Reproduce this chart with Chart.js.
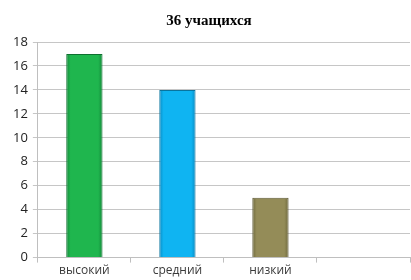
<!DOCTYPE html>
<html><head><meta charset="utf-8">
<script src="https://cdn.jsdelivr.net/npm/chart.js@4"></script>
<style>html,body{margin:0;padding:0;background:#fff}#w{width:411px;height:280px}</style>
</head><body><div id="w"><canvas id="c"></canvas></div>
<script>
const categories = ["высокий", "средний", "низкий", ""];
const values = [17, 14, 5, null];
const yTicks = [0, 2, 4, 6, 8, 10, 12, 14, 16, 18];
const titleText = "36 учащихся";
const fills = ["#1fb64e", "#0fb4f2", "#948c58", "#999999"];
const edges = ["#138a3a", "#0a8cc4", "#6f6a3e", "#777777"];
const borders = ["#0e7030", "#08749f", "#5e5934", "#666666"];

function barFill(ctx) {
  const chart = ctx.chart, i = ctx.dataIndex;
  const xs = chart.scales && chart.scales.x;
  if (!xs || !chart.chartArea) return fills[i];
  const c = xs.getPixelForValue(i);
  const half = xs.width / categories.length * 0.39 / 2;
  const g = chart.ctx.createLinearGradient(c - half, 0, c + half, 0);
  g.addColorStop(0, edges[i]);
  g.addColorStop(0.12, fills[i]);
  g.addColorStop(0.88, fills[i]);
  g.addColorStop(1, edges[i]);
  return g;
}

new Chart(document.getElementById('c'), {
  type: 'bar',
  data: { labels: categories, datasets: [{ data: values, backgroundColor: barFill, borderColor: borders, borderWidth: 1, categoryPercentage: 1, barPercentage: 0.39 }] },
  options: {
    responsive: true, maintainAspectRatio: false, animation: false,
    layout: { padding: { left: 8, right: 1, top: 0, bottom: 1 } },
    plugins: {
      legend: { display: false },
      tooltip: { enabled: false },
      title: { display: true, text: titleText, color: '#000', font: { family: 'Liberation Serif', size: 15, weight: 'bold' }, padding: { top: 12, bottom: 12 } }
    },
    scales: {
      x: {
        grid: { drawOnChartArea: false, drawTicks: true, tickLength: 5, color: '#bfbfbf', offset: true },
        border: { color: '#bfbfbf' },
        ticks: { color: '#3a3a3a', font: { family: 'Open Sans', size: 12 }, padding: 1 }
      },
      y: {
        min: 0, max: 18,
        afterBuildTicks: (s) => { s.ticks = yTicks.map(v => ({ value: v })); },
        grid: { color: '#c6c6c6', tickLength: 5 },
        border: { color: '#bfbfbf' },
        ticks: { color: '#222', font: { family: 'Open Sans', size: 13 }, padding: 5 }
      }
    }
  }
});
</script></body></html>
